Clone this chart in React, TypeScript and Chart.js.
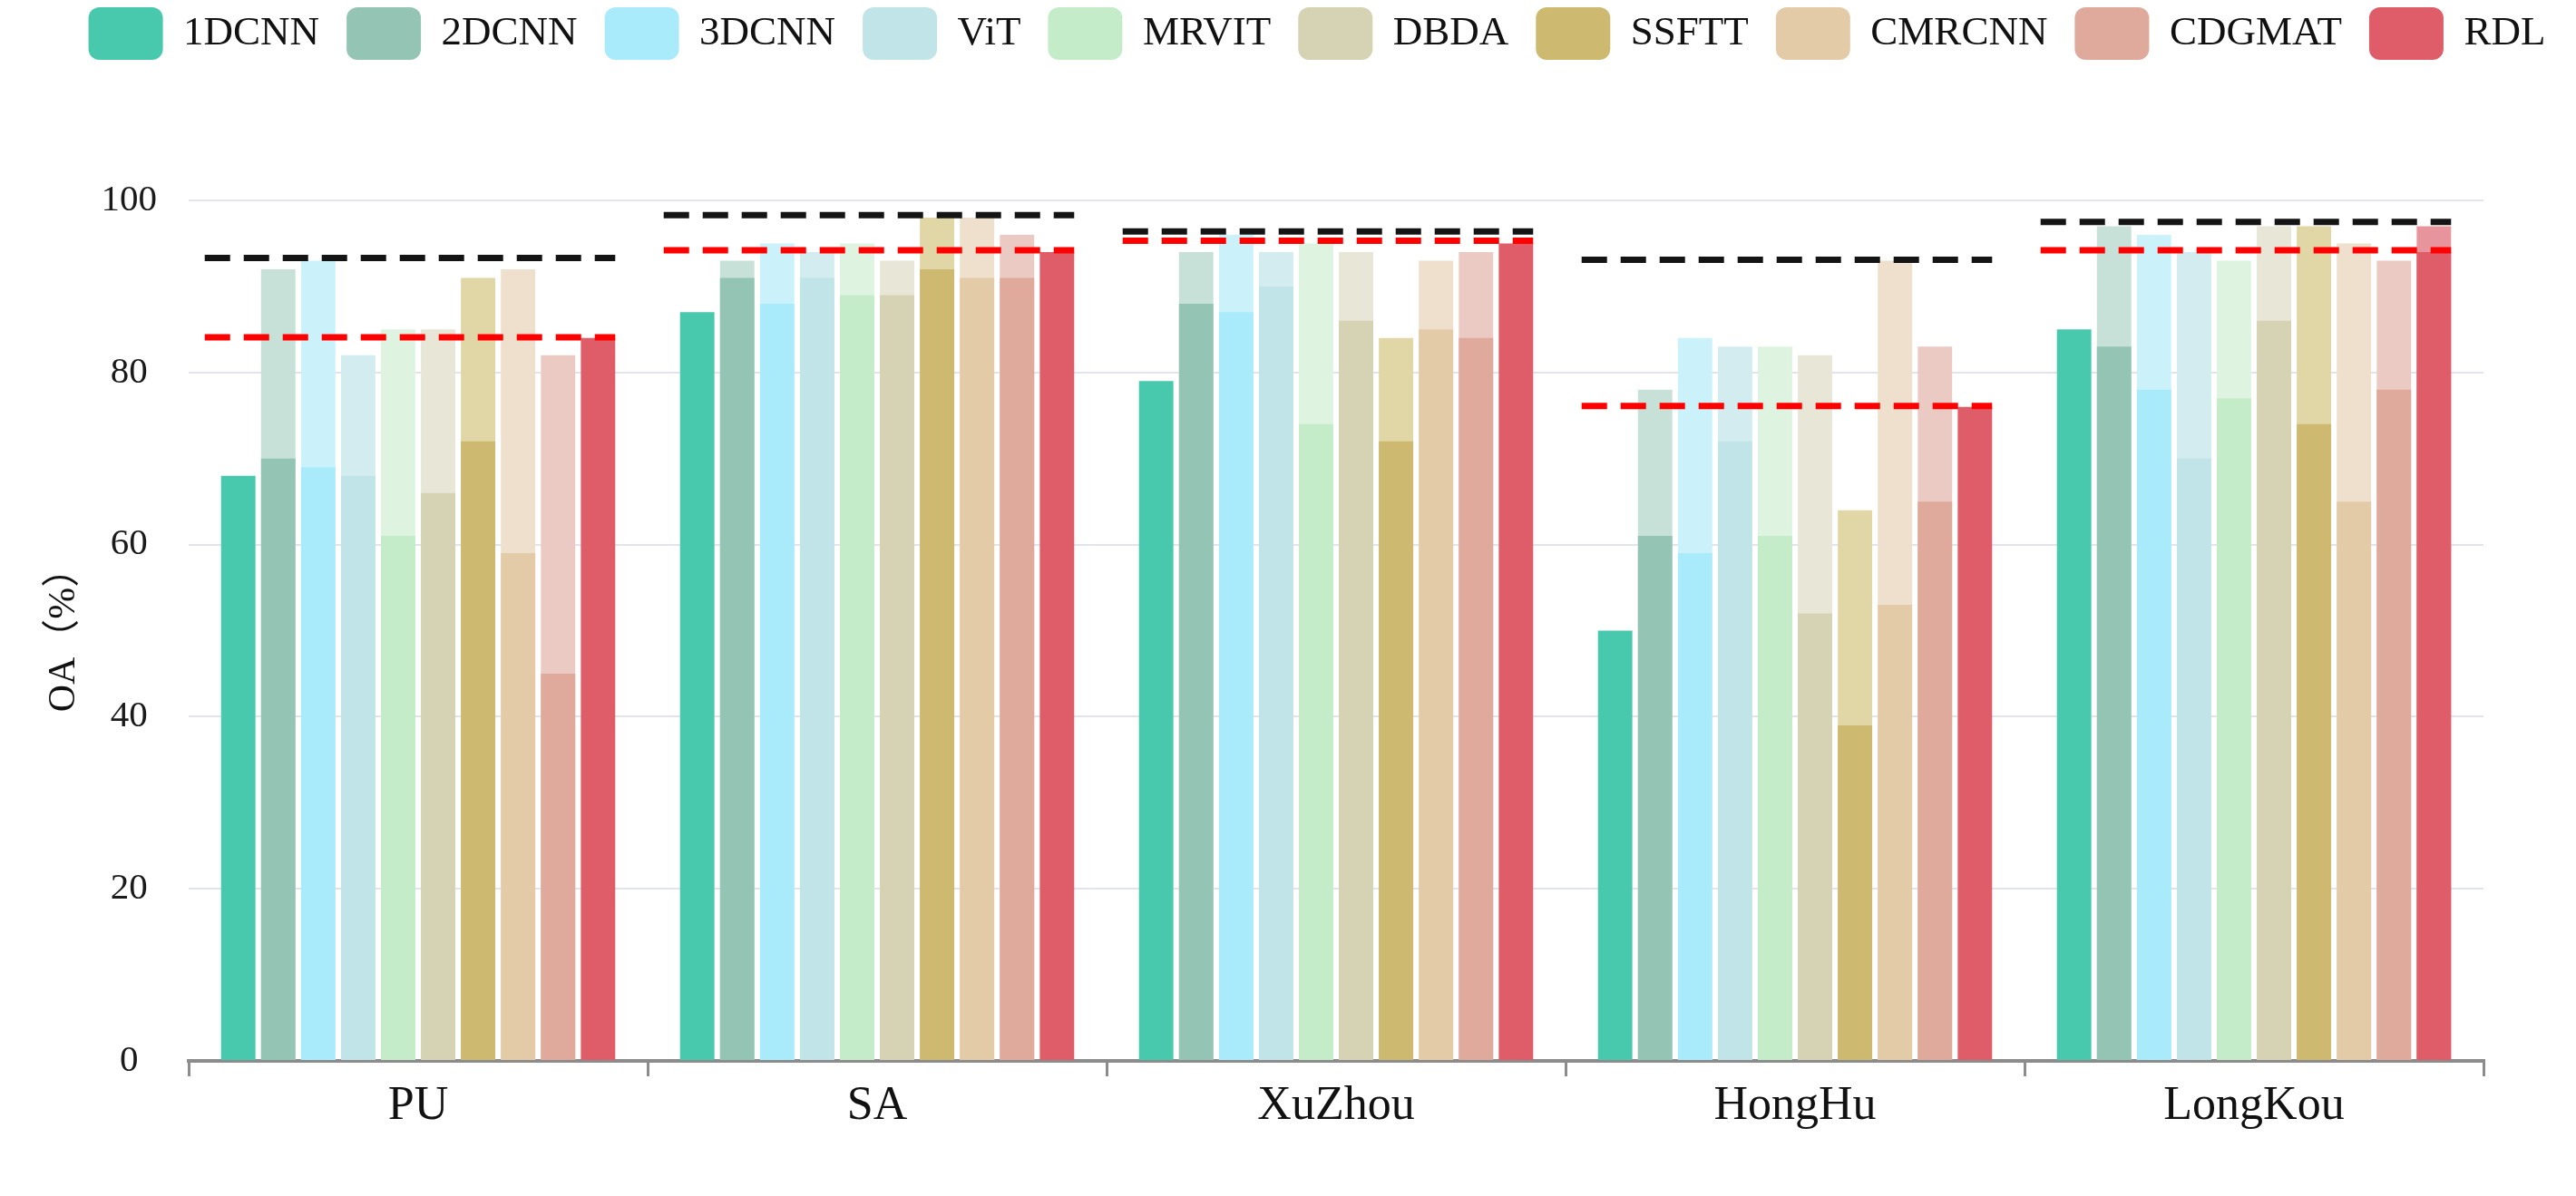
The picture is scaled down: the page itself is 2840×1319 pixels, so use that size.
import { useEffect, useRef } from 'react';
import { Chart, registerables } from 'chart.js';

Chart.register(...registerables);

const categories = ['PU', 'SA', 'XuZhou', 'HongHu', 'LongKou'];
const methods = ['1DCNN', '2DCNN', '3DCNN', 'ViT', 'MRVIT', 'DBDA', 'SSFTT', 'CMRCNN', 'CDGMAT', 'RDL'];

const solidColors = ['#48c9ad', '#94c5b4', '#a9ebfa', '#c1e4e8', '#c4ecc9', '#d5d3b4', '#cdb96f', '#e4cba8', '#dfa99b', '#df5c69'];
const lightColors = ['#9fe0d2', '#c7e1d8', '#cbf2fb', '#d3ecef', '#def4e1', '#e8e6d6', '#e1d6a6', '#eee0cc', '#ebcac3', '#e8949d'];

// solid (lower) OA, one row per method, one value per dataset
const oaSolid: number[][] = [
  [68, 87, 79, 50, 85], // 1DCNN
  [70, 91, 88, 61, 83], // 2DCNN
  [69, 88, 87, 59, 78], // 3DCNN
  [68, 91, 90, 72, 70], // ViT
  [61, 89, 74, 61, 77], // MRVIT
  [66, 89, 86, 52, 86], // DBDA
  [72, 92, 72, 39, 74], // SSFTT
  [59, 91, 85, 53, 65], // CMRCNN
  [45, 91, 84, 65, 78], // CDGMAT
  [84, 94, 95, 76, 94], // RDL
];

// faded (upper) OA, null = no faded part
const oaUpper: (number | null)[][] = [
  [null, null, null, null, null],
  [92, 93, 94, 78, 97],
  [93, 95, 96, 84, 96],
  [82, 94, 94, 83, 94],
  [85, 95, 95, 83, 93],
  [85, 93, 94, 82, 97],
  [91, 98, 84, 64, 97],
  [92, 98, 93, 93, 95],
  [82, 96, 94, 83, 93],
  [null, null, null, null, 97],
];

const blackLine = [93.3, 98.3, 96.4, 93.1, 97.5];
const redLine = [84.1, 94.2, 95.3, 76.1, 94.2];

const SERIF = '"Liberation Serif", "Times New Roman", serif';

// legend: one wide row centred at x=1452, fixed gap below it
const legendGap = {
  id: 'legendGap',
  beforeInit(chart: any) {
    const fit = chart.legend.fit;
    chart.legend.fit = function () {
      this.maxWidth = 2840;
      fit.call(this);
      this.height = 221;
    };
  },
  afterLayout(chart: any) {
    const lg = chart.legend;
    lg.left = 1452 - 1500;
    lg.right = 1452 + 1500;
    lg.top -= 22;
    lg.bottom -= 22;
  },
};

const refLines = {
  id: 'refLines',
  afterDatasetsDraw(chart: any) {
    const { ctx } = chart;
    const yScale = chart.scales.y;
    const first = chart.getDatasetMeta(0).data;
    const last = chart.getDatasetMeta(methods.length - 1).data;
    ctx.save();
    ctx.lineWidth = 7;
    ctx.setLineDash([28, 15]);
    categories.forEach((_, j) => {
      const x0 = first[j].x - first[j].width / 2 - 18;
      const x1 = last[j].x + last[j].width / 2;
      const lines: [number, string][] = [
        [blackLine[j], '#141414'],
        [redLine[j], '#ff0000'],
      ];
      lines.forEach(([v, c]) => {
        const y = yScale.getPixelForValue(v);
        ctx.strokeStyle = c;
        ctx.beginPath();
        ctx.moveTo(x0, y);
        ctx.lineTo(x1, y);
        ctx.stroke();
      });
    });
    ctx.restore();
  },
};

export default function App() {
  const canvasRef = useRef<HTMLCanvasElement | null>(null);

  useEffect(() => {
    if (!canvasRef.current) return;

    const barOpts = {
      borderWidth: 0,
      categoryPercentage: 0.871,
      barPercentage: 0.86,
    };
    const datasets: any[] = [
      ...methods.map((m, i) => ({
        label: m,
        data: oaSolid[i],
        backgroundColor: solidColors[i],
        stack: m,
        ...barOpts,
      })),
      ...methods.map((m, i) => ({
        label: m + ' upper',
        data: oaUpper[i],
        backgroundColor: lightColors[i],
        stack: m,
        ...barOpts,
      })),
    ];

    const chart = new Chart(canvasRef.current, {
      type: 'bar',
      data: { labels: categories, datasets },
      plugins: [legendGap, refLines],
      options: {
        animation: false,
        responsive: true,
        maintainAspectRatio: false,
        layout: { padding: { left: 0, right: 102, top: 0, bottom: 0 } },
        scales: {
          x: {
            grid: {
              display: true,
              drawOnChartArea: false,
              drawTicks: true,
              tickLength: 17,
              color: '#8c8c8c',
              lineWidth: 3,
            },
            border: { display: true, color: '#8c8c8c', width: 4 },
            ticks: {
              color: '#111',
              padding: 2,
              font: { family: SERIF, size: 52 },
            },
            afterFit(scale: any) {
              scale.height = 149;
            },
          },
          y: {
            stacked: false,
            min: 0,
            max: 100,
            grid: { color: '#e3e3ee', lineWidth: 2, drawTicks: false },
            border: { display: false },
            ticks: {
              stepSize: 20,
              crossAlign: 'center',
              padding: 35,
              color: '#1a1a1a',
              font: { family: SERIF, size: 41 },
            },
            title: {
              display: true,
              text: 'OA（%）',
              color: '#111',
              padding: { top: 46, bottom: 0 },
              font: { family: SERIF + ', "Noto Sans CJK SC"', size: 42 },
            },
            afterFit(scale: any) {
              scale.width = 208;
            },
          },
        },
        plugins: {
          tooltip: { enabled: false },
          legend: {
            position: 'top',
            labels: {
              filter: (item: any) => item.datasetIndex < methods.length,
              boxWidth: 82,
              boxHeight: 58,
              useBorderRadius: true,
              borderRadius: 12,
              padding: 30,
              color: '#111',
              font: { family: SERIF, size: 45 },
            },
          },
        },
      } as any,
    });

    return () => {
      chart.destroy();
    };
  }, []);

  return (
    <div style={{ position: 'fixed', left: 0, top: 0, width: 2840, height: 1319, background: '#fff' }}>
      <canvas ref={canvasRef} />
    </div>
  );
}
